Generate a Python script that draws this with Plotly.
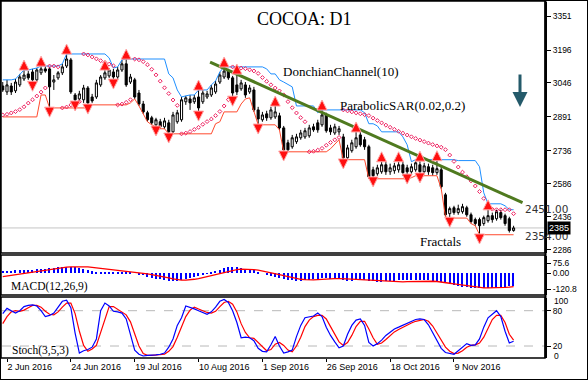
import plotly.graph_objects as go

# ---------------- data ----------------
opens = [3032,3005,3032,3010,3037,3064,3087,3096,3060,3092,
         3110,3110,3050,3069,3092,3123,3151,2991,2973,2969,
         3023,2982,2982,3037,3069,3078,3096,3073,3105,3133,
         3050,3060,3000,2950,2910,2887,2855,2869,2846,2864,
         2823,2869,2878,2960,2973,2960,2982,2960,2982,2991,
         3005,3050,3073,3100,3069,3037,3019,3037,3005,3014,
         2923,2878,2905,2887,2891,2896,2841,2773,2755,2778,
         2796,2800,2805,2846,2864,2855,2900,2841,2818,2823,
         2800,2705,2737,2755,2809,2787,2755,2650,2632,2641,
         2673,2641,2646,2650,2673,2659,2641,2650,2673,2641,
         2664,2659,2637,2650,2536,2450,2477,2455,2459,2477,
         2445,2423,2423,2405,2418,2441,2427,2455,2441,2427,2373]
highs = [3050,3060,3046,3064,3087,3105,3100,3110,3114,3123,
         3123,3119,3082,3100,3133,3178,3160,3000,3010,3037,
         3032,2996,3060,3082,3105,3114,3110,3119,3151,3155,
         3087,3069,3014,2964,2919,2896,2887,2882,2887,2878,
         2914,2923,2982,2987,2991,2991,3014,3014,3010,3037,
         3055,3096,3119,3110,3078,3087,3060,3050,3037,3028,
         2937,2914,2919,2937,2941,2910,2850,2787,2809,2814,
         2832,2841,2855,2860,2878,2923,2910,2855,2860,2850,
         2814,2764,2787,2823,2823,2800,2764,2664,2673,2687,
         2687,2678,2682,2687,2687,2673,2678,2696,2690,2682,
         2678,2673,2692,2664,2545,2482,2486,2491,2495,2486,
         2455,2432,2432,2441,2468,2455,2468,2468,2450,2436,2395]
lows = [3005,2991,2991,3000,3028,3055,3060,3050,3050,3082,
        3092,2932,3014,3060,3082,3114,2996,2960,2964,2955,
        2946,2955,2973,3028,3060,3069,3060,3064,3096,3028,
        3041,2973,2941,2905,2869,2855,2846,2837,2837,2814,
        2814,2860,2869,2946,2923,2950,2914,2950,2973,2982,
        2996,3041,3064,3060,2982,2991,3010,2978,2996,2914,
        2855,2869,2873,2878,2882,2832,2732,2732,2746,2768,
        2787,2791,2796,2823,2819,2846,2819,2809,2809,2809,
        2696,2696,2728,2746,2755,2741,2609,2614,2623,2632,
        2627,2627,2632,2637,2623,2627,2632,2641,2632,2632,
        2627,2623,2627,2564,2436,2430,2445,2445,2450,2436,
        2405,2395,2354,2395,2409,2409,2418,2423,2395,2364,2368]
closes = [3014,3037,3005,3050,3073,3082,3069,3060,3105,3110,
          3100,3028,3060,3092,3119,3155,3005,2969,2996,3023,
          2955,2964,3046,3073,3092,3105,3073,3105,3133,3037,
          3073,2982,2950,2914,2878,2864,2878,2846,2873,2823,
          2900,2910,2969,2978,2955,2978,2932,3000,2996,3023,
          3041,3082,3100,3069,3000,3005,3046,2991,3023,2923,
          2882,2900,2887,2923,2914,2841,2741,2741,2796,2800,
          2818,2828,2841,2832,2832,2900,2828,2823,2846,2837,
          2705,2750,2773,2796,2764,2755,2618,2623,2659,2673,
          2641,2659,2668,2673,2637,2641,2664,2682,2641,2668,
          2641,2637,2655,2573,2445,2473,2455,2473,2482,2445,
          2414,2405,2395,2432,2441,2423,2459,2432,2405,2373,2385]

macd_main = [18,18,20,22,22,25,27,28,30,32,
             35,38,42,45,48,50,50,48,38,30,
             22,15,12,10,10,12,12,10,10,8,
             5,0,-8,-16,-25,-33,-40,-45,-50,-55,
             -58,-55,-50,-45,-38,-30,-22,-12,-2,8,
             18,28,38,45,47,45,40,35,30,22,
             12,0,-10,-18,-25,-32,-40,-48,-52,-55,
             -55,-52,-48,-45,-42,-38,-38,-40,-42,-44,
             -50,-55,-55,-52,-50,-50,-55,-60,-62,-62,
             -60,-58,-56,-54,-52,-50,-50,-50,-50,-52,
             -54,-56,-58,-62,-70,-80,-88,-95,-100,-105,
             -108,-110,-112,-112,-110,-108,-105,-102,-100,-98,-96]
macd_signal = [-25,-20,-15,-10,-5,0,5,10,15,20,
               25,30,35,40,43,46,48,50,50,49,
               48,45,42,38,35,30,25,22,18,15,
               12,8,4,0,-5,-10,-15,-20,-28,-35,
               -42,-48,-52,-52,-50,-45,-40,-32,-25,-18,
               -10,-2,8,15,22,28,32,32,30,28,
               24,18,12,5,-2,-10,-18,-25,-32,-40,
               -45,-48,-50,-50,-48,-45,-42,-40,-40,-40,
               -40,-42,-44,-46,-48,-50,-50,-52,-55,-58,
               -60,-62,-63,-64,-64,-63,-62,-60,-60,-60,
               -60,-60,-62,-65,-70,-75,-80,-85,-90,-95,
               -100,-105,-108,-110,-110,-110,-110,-108,-106,-104,-100]

stoch_k = [75,84,80,76,80,87,89,90,88,80,
           70,72,76,86,96,98,85,42,8,12,
           14,18,32,80,93,88,79,78,76,66,
           40,13,6,3,4,4,5,6,8,18,
           32,55,68,88,86,83,80,77,74,78,
           86,96,99,94,80,60,34,35,34,29,
           16,11,10,22,36,20,8,10,13,36,
           55,68,70,71,76,70,52,38,27,17,
           20,40,55,64,66,55,26,20,24,30,
           38,44,49,52,55,59,62,65,66,65,
           56,42,28,16,9,7,6,12,18,24,
           21,22,32,52,68,74,80,70,45,25,28]
stoch_d = [58,70,78,80,79,81,85,89,89,86,
           79,74,73,78,86,93,93,75,45,21,
           11,15,21,43,68,87,87,82,78,73,
           61,40,20,7,4,4,5,5,6,11,
           19,35,52,70,81,86,83,80,77,76,
           79,87,94,96,91,78,58,43,34,33,
           26,19,12,14,23,26,21,13,10,20,
           35,53,64,70,72,72,66,53,39,27,
           21,26,38,53,62,62,49,34,23,25,
           31,37,44,48,52,55,59,62,64,65,
           62,54,42,29,18,11,7,8,12,18,
           21,22,25,35,51,65,72,72,60,40,30]

fractal_up_idx = [5, 9, 15, 24, 29, 46, 52, 55, 64, 75, 83, 89, 93, 98, 102, 114]
fractal_dn_idx = [7, 11, 17, 20, 26, 36, 39, 46, 54, 60, 66, 80, 87, 95, 98, 105, 112]

trend_idx = [48.7, 122.1]
trend_price = [3141, 2500]

price_ticks = [3351, 3196, 3046, 2891, 2736, 2586, 2436, 2286]
macd_ticks = [75.6, 0.0, -120.8]
macd_tick_text = ["75.6", "0.00", "-120.8"]
date_idx = [1, 16, 31, 46, 61, 76, 91, 106]
date_labels = ["2 Jun 2016", "24 Jun 2016", "19 Jul 2016", "10 Aug 2016",
               "1 Sep 2016", "26 Sep 2016", "18 Oct 2016", "9 Nov 2016"]
donchian_period = 10
donchian_pre_high = 3060
donchian_pre_low = 2891
psar_step, psar_max = 0.02, 0.2
psar_start = 2900
last_price = 2385
level_labels = [2451.00, 2354.00]
level_label_shift = [4, -1]

n = len(closes)
idx = list(range(n))

# ------------- indicators derived from the price data -------------
don_up, don_lo = [], []
for i in range(n):
    a = max(0, i - donchian_period + 1)
    hi = max(highs[a:i + 1])
    lo = min(lows[a:i + 1])
    if i < donchian_period - 1:
        hi = max(hi, donchian_pre_high)
        lo = min(lo, donchian_pre_low)
    don_up.append(hi)
    don_lo.append(lo)

sar = []
trend = 1
s = psar_start
ep = highs[0]
af = psar_step
for i in range(n):
    if i > 0:
        s = s + af * (ep - s)
        if trend == 1:
            s = min(s, lows[i - 1], lows[max(i - 2, 0)])
            if lows[i] < s:
                trend, s, ep, af = -1, ep, lows[i], psar_step
            elif highs[i] > ep:
                ep = highs[i]
                af = min(af + psar_step, psar_max)
        else:
            s = max(s, highs[i - 1], highs[max(i - 2, 0)])
            if highs[i] > s:
                trend, s, ep, af = 1, ep, highs[i], psar_step
            elif lows[i] < ep:
                ep = lows[i]
                af = min(af + psar_step, psar_max)
    sar.append(s)

# ---------------- layout helpers ----------------
W, H = 588, 380
def PX(x): return x / W
def PY(y): return 1 - y / H

XL, XR = 2, 545
MAIN = (2, 253)
MACDP = (256, 295)
STOP = (298, 358)

bar_px = 4.257
x0_px = 2.74
xr = [(XL - x0_px) / bar_px, (XR - x0_px) / bar_px]

main_slope = 1 / 0.2194
main_range = [3351 - (MAIN[1] - 16) * main_slope, 3351 + (16 - MAIN[0]) * main_slope]
macd_slope = (75.6 + 120.8) / (289.3 - 263.3)
macd_range = [75.6 - (MACDP[1] - 263.3) * macd_slope, 75.6 + (263.3 - MACDP[0]) * macd_slope]
sto_slope = 60 / (346.0 - 310.7)
sto_range = [80 - (STOP[1] - 310.7) * sto_slope, 80 + (310.7 - STOP[0]) * sto_slope]

fig = go.Figure()

fig.add_trace(go.Scatter(x=idx, y=don_up, mode="lines", line=dict(color="#1e8fff", width=1),
                         xaxis="x", yaxis="y", hoverinfo="skip"))
fig.add_trace(go.Scatter(x=idx, y=don_lo, mode="lines", line=dict(color="#ff4a2e", width=1),
                         xaxis="x", yaxis="y", hoverinfo="skip"))
fig.add_trace(go.Scatter(x=idx, y=sar, mode="markers",
                         marker=dict(symbol="diamond-open", size=3, color="#ee2060",
                                     line=dict(width=1, color="#ee2060")),
                         xaxis="x", yaxis="y", hoverinfo="skip"))
fig.add_trace(go.Candlestick(x=idx, open=opens, high=highs, low=lows, close=closes,
                             increasing=dict(line=dict(color="black", width=1), fillcolor="white"),
                             decreasing=dict(line=dict(color="black", width=1), fillcolor="black"),
                             xaxis="x", yaxis="y", hoverinfo="skip"))
fig.add_trace(go.Scatter(x=trend_idx, y=trend_price, mode="lines",
                         line=dict(color="#4f7a1f", width=3), xaxis="x", yaxis="y", hoverinfo="skip"))
fig.add_trace(go.Scatter(x=fractal_up_idx, y=[highs[i] + 45 for i in fractal_up_idx], mode="markers",
                         marker=dict(symbol="arrow-up", size=10, color="#ff1010",
                                     line=dict(width=1, color="#ffa8a8")),
                         xaxis="x", yaxis="y", hoverinfo="skip"))
fig.add_trace(go.Scatter(x=fractal_dn_idx, y=[lows[i] - 42 for i in fractal_dn_idx], mode="markers",
                         marker=dict(symbol="arrow-down", size=10, color="#ff1010",
                                     line=dict(width=1, color="#ffa8a8")),
                         xaxis="x", yaxis="y", hoverinfo="skip"))

fig.add_trace(go.Bar(x=idx, y=macd_main, width=0.3, marker=dict(color="#0000ff", line=dict(width=0)),
                     xaxis="x", yaxis="y2", hoverinfo="skip"))
fig.add_trace(go.Scatter(x=idx, y=macd_signal, mode="lines", line=dict(color="#ff0000", width=1.3),
                         xaxis="x", yaxis="y2", hoverinfo="skip"))

fig.add_trace(go.Scatter(x=idx, y=stoch_d, mode="lines", line=dict(color="#ff0000", width=1.2),
                         xaxis="x", yaxis="y3", hoverinfo="skip"))
fig.add_trace(go.Scatter(x=idx, y=stoch_k, mode="lines", line=dict(color="#0000ff", width=1.2),
                         xaxis="x", yaxis="y3", hoverinfo="skip"))

axfont = dict(family="Liberation Sans, Arial, sans-serif", size=8.5, color="black")
yax_common = dict(side="right", anchor="x", showgrid=False, zeroline=False, ticks="outside",
                  ticklen=4, tickwidth=1, tickcolor="black", showline=True, linewidth=2,
                  linecolor="black", tickfont=axfont, fixedrange=True)

shapes = []
for (t, b) in (MAIN, MACDP, STOP):
    shapes.append(dict(type="rect", xref="paper", yref="paper", x0=PX(1), x1=PX(XR),
                       y0=PY(b), y1=PY(t - 1), line=dict(color="black", width=1.5)))
shapes.append(dict(type="line", xref="paper", yref="paper", x0=PX(XR + 0.5), x1=PX(XR + 0.5),
                   y0=PY(STOP[1]), y1=1, line=dict(color="black", width=2)))
shapes.append(dict(type="line", xref="paper", yref="y", x0=PX(XL), x1=PX(XR),
                   y0=last_price, y1=last_price, line=dict(color="#c4c4c4", width=1), layer="below"))
for lv in (80, 20):
    shapes.append(dict(type="line", xref="paper", yref="y3", x0=PX(XL), x1=PX(XR),
                       y0=lv, y1=lv, line=dict(color="#b8b8b8", width=1, dash="dash"), layer="below"))
shapes.append(dict(type="rect", xref="paper", yref="paper", x0=0, x1=1, y0=0, y1=1,
                   line=dict(color="black", width=2)))

serif = "Liberation Serif, Times New Roman, serif"
ann = []
def text(x, y, s, size, font=serif, color="black", anchor="left"):
    ann.append(dict(xref="paper", yref="paper", x=PX(x), y=PY(y), text=s, showarrow=False,
                    xanchor=anchor, yanchor="middle", font=dict(family=font, size=size, color=color)))

text(304, 19, "COCOA: D1", 18, anchor="center")
text(281, 71, "DonchianChannel(10)", 13)
text(338, 105, "ParabolicSAR(0.02,0.2)", 13)
text(418, 241, "Fractals", 13)
text(9, 286, "MACD(12,26,9)", 11.5)
text(10, 350, "Stoch(3,5,3)", 11.5)
text(552, 301, "100", 8.5, font=axfont["family"])
text(552, 356, "0", 8.5, font=axfont["family"])

for lv, sh in zip(level_labels, level_label_shift):
    ann.append(dict(xref="paper", yref="y", x=PX(523), y=lv, yshift=sh, text=f"{lv:.2f}",
                    showarrow=False, xanchor="left", yanchor="middle",
                    font=dict(family="DejaVu Sans, sans-serif", size=10.5, color="#333333")))
ann.append(dict(xref="paper", yref="y", x=PX(547), y=last_price, text=str(last_price), showarrow=False,
                xanchor="left", yanchor="middle", bgcolor="black", borderpad=1,
                font=dict(family="Liberation Sans, sans-serif", size=9, color="white")))
ann.append(dict(xref="paper", yref="paper", x=PX(520), y=PY(107), ax=0, ay=-34,
                showarrow=True, arrowhead=2, arrowsize=1, arrowwidth=3, arrowcolor="#245a6a", text=""))

fig.update_layout(
    width=W, height=H, margin=dict(l=0, r=0, t=0, b=0, autoexpand=False),
    paper_bgcolor="white", plot_bgcolor="white", showlegend=False,
    xaxis=dict(domain=[PX(XL), PX(XR)], range=xr, anchor="y3", showgrid=False, zeroline=False,
               tickvals=date_idx, ticktext=date_labels, ticks="outside", ticklen=3,
               tickcolor="black", ticklabelposition="outside right",
               tickfont=dict(family="Liberation Sans, Arial, sans-serif", size=9, color="black"),
               rangeslider=dict(visible=False), showline=False, fixedrange=True),
    yaxis=dict(domain=[PY(MAIN[1]), PY(MAIN[0])], range=main_range, tickvals=price_ticks, **yax_common),
    yaxis2=dict(domain=[PY(MACDP[1]), PY(MACDP[0])], range=macd_range, tickvals=macd_ticks,
                ticktext=macd_tick_text, **yax_common),
    yaxis3=dict(domain=[PY(STOP[1]), PY(STOP[0])], range=sto_range, tickvals=[80, 20],
                ticktext=["80", "20"], **yax_common),
    shapes=shapes, annotations=ann, bargap=0,
)

fig.write_html("out.html", config={"displayModeBar": False},
               post_script="document.body.style.margin='0';document.body.style.overflow='hidden';")
